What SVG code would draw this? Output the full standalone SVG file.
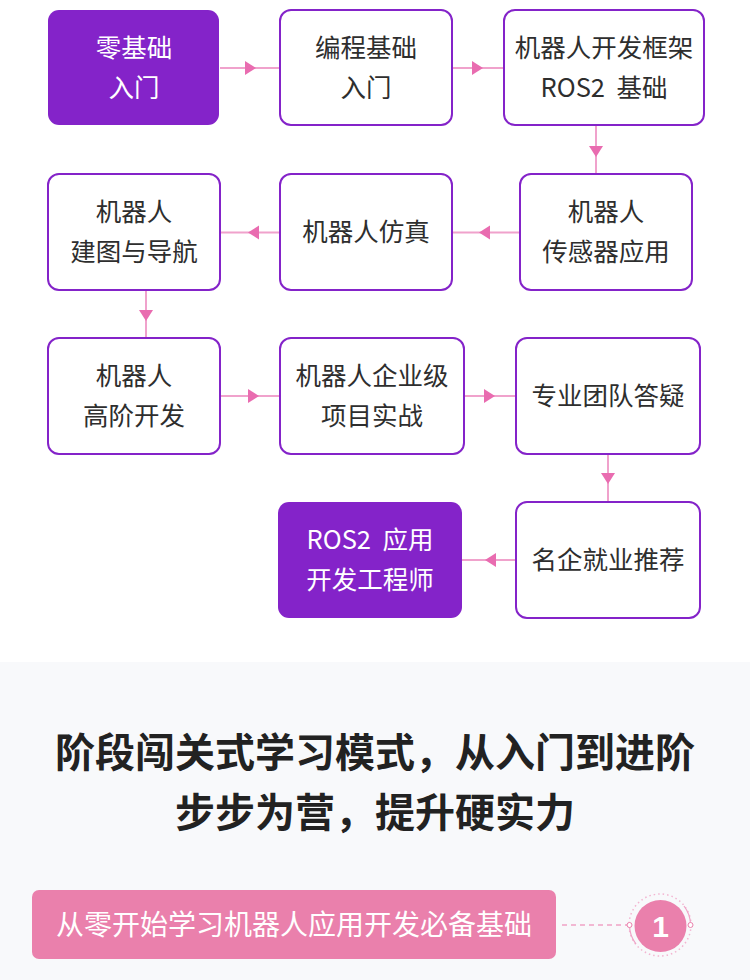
<svg xmlns="http://www.w3.org/2000/svg" width="750" height="980" viewBox="0 0 750 980">
<style>
.box{fill:#ffffff;stroke:#8423C9;stroke-width:2}
.fill{fill:#8423C9}
.t{font-family:"Noto Sans CJK SC","Liberation Sans",sans-serif;font-size:25.5px;fill:#2e2e2e;text-anchor:middle}
.w{fill:#ffffff}
.ln{stroke:#F0A2CC;stroke-width:2;fill:none}
.ah{fill:#E96CB0}
.h{font-family:"Noto Sans CJK SC","Liberation Sans",sans-serif;font-size:40px;font-weight:bold;fill:#222222;text-anchor:middle}
</style>
<rect x="0" y="0" width="750" height="662" fill="#ffffff"/>
<rect x="0" y="662" width="750" height="318" fill="#F8F9FB"/>

<g id="connectors">
  <line class="ln" x1="220" y1="68" x2="280" y2="68"/>
  <polygon class="ah" points="245,61 256,68 245,75"/>
  <line class="ln" x1="452" y1="68" x2="504" y2="68"/>
  <polygon class="ah" points="472,61 483,68 472,75"/>
  <line class="ln" x1="596" y1="126" x2="596" y2="174"/>
  <polygon class="ah" points="589,146 603,146 596,157"/>
  <line class="ln" x1="452" y1="232.5" x2="520" y2="232.5"/>
  <polygon class="ah" points="490,225.5 479,232.5 490,239.5"/>
  <line class="ln" x1="220" y1="232.5" x2="280" y2="232.5"/>
  <polygon class="ah" points="259,225.5 248,232.5 259,239.5"/>
  <line class="ln" x1="146" y1="290" x2="146" y2="338"/>
  <polygon class="ah" points="139,310 153,310 146,321"/>
  <line class="ln" x1="220" y1="396" x2="280" y2="396"/>
  <polygon class="ah" points="248,389 259,396 248,403"/>
  <line class="ln" x1="464" y1="396" x2="516" y2="396"/>
  <polygon class="ah" points="484,389 495,396 484,403"/>
  <line class="ln" x1="608" y1="454" x2="608" y2="502"/>
  <polygon class="ah" points="601,473 615,473 608,484"/>
  <line class="ln" x1="462" y1="560" x2="516" y2="560"/>
  <polygon class="ah" points="496,553 485,560 496,567"/>
</g>

<g id="n1">
  <rect class="fill" x="48" y="10" width="171" height="115" rx="11"/>
  <text class="t w" x="134" y="57">零基础</text>
  <text class="t w" x="134" y="97">入门</text>
</g>
<g id="n2">
  <rect class="box" x="280" y="10" width="172" height="115" rx="11"/>
  <text class="t" x="366" y="57">编程基础</text>
  <text class="t" x="366" y="97">入门</text>
</g>
<g id="n3">
  <rect class="box" x="504" y="10" width="200" height="115" rx="11"/>
  <text class="t" x="604" y="57">机器人开发框架</text>
  <text class="t" x="604" y="97">ROS2&#160; 基础</text>
</g>
<g id="n6">
  <rect class="box" x="520" y="174" width="172" height="116" rx="11"/>
  <text class="t" x="606" y="221">机器人</text>
  <text class="t" x="606" y="261">传感器应用</text>
</g>
<g id="n5">
  <rect class="box" x="280" y="174" width="172" height="116" rx="11"/>
  <text class="t" x="366" y="241">机器人仿真</text>
</g>
<g id="n4">
  <rect class="box" x="48" y="174" width="172" height="116" rx="11"/>
  <text class="t" x="134" y="221">机器人</text>
  <text class="t" x="134" y="261">建图与导航</text>
</g>
<g id="n7">
  <rect class="box" x="48" y="338" width="172" height="116" rx="11"/>
  <text class="t" x="134" y="385">机器人</text>
  <text class="t" x="134" y="425">高阶开发</text>
</g>
<g id="n8">
  <rect class="box" x="280" y="338" width="184" height="116" rx="11"/>
  <text class="t" x="372" y="385">机器人企业级</text>
  <text class="t" x="372" y="425">项目实战</text>
</g>
<g id="n9">
  <rect class="box" x="516" y="338" width="184" height="116" rx="11"/>
  <text class="t" x="608" y="405">专业团队答疑</text>
</g>
<g id="n11">
  <rect class="box" x="516" y="502" width="184" height="116" rx="11"/>
  <text class="t" x="608" y="569">名企就业推荐</text>
</g>
<g id="n10">
  <rect class="fill" x="278" y="502" width="184" height="116" rx="11"/>
  <text class="t w" x="370" y="549">ROS2&#160; 应用</text>
  <text class="t w" x="370" y="589">开发工程师</text>
</g>

<g id="heading">
  <text class="h" x="375" y="767">阶段闯关式学习模式，从入门到进阶</text>
  <text class="h" x="375" y="827">步步为营，提升硬实力</text>
</g>

<g id="banner">
  <rect x="32" y="890" width="524" height="69" rx="7" fill="#EA80AC"/>
  <text class="t w" x="294" y="935" style="font-size:28px">从零开始学习机器人应用开发必备基础</text>
  <line x1="562" y1="925" x2="627" y2="925" stroke="#EFA3C6" stroke-width="1.5" stroke-dasharray="5,4"/>
  <circle cx="660" cy="925" r="31" fill="none" stroke="#F3B5D1" stroke-width="1.5" stroke-dasharray="1.5,3"/>
  <path d="M629.5,925 A31,31 0 0 0 636,944" fill="none" stroke="#EFA3C6" stroke-width="1.2"/>
  <path d="M690.5,925 A31,31 0 0 0 684,906" fill="none" stroke="#EFA3C6" stroke-width="1.2"/>
  <circle cx="660.5" cy="926" r="26" fill="#EA80AC"/>
  <circle cx="629.5" cy="925" r="2.5" fill="#ffffff" stroke="#EA80AC" stroke-width="1"/>
  <circle cx="690.5" cy="925" r="2.5" fill="#ffffff" stroke="#EA80AC" stroke-width="1"/>
  <text x="660.5" y="937" font-family="'Liberation Sans','Noto Sans',sans-serif" font-size="30" font-weight="bold" fill="#ffffff" text-anchor="middle">1</text>
</g>
</svg>
